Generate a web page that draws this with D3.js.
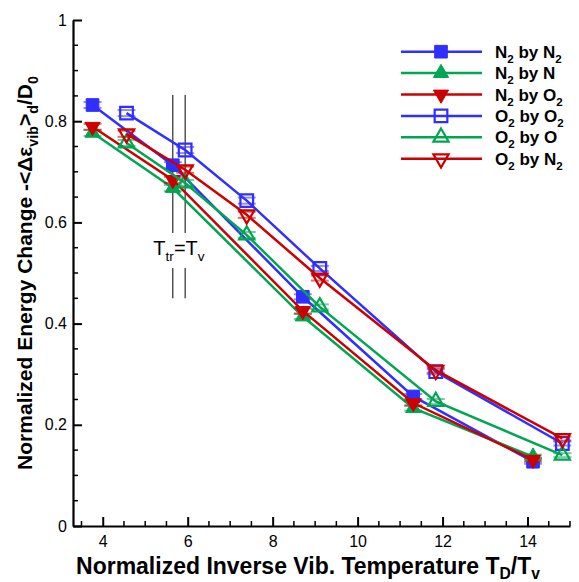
<!DOCTYPE html>
<html>
<head>
<meta charset="utf-8">
<script src="https://cdn.jsdelivr.net/npm/d3@7"></script>
<style>
  body { margin: 0; background: #fff; }
  svg { display: block; font-family: "Liberation Sans", Arial, sans-serif; }
</style>
</head>
<body>
<div id="chart"></div>
<script>
// values
const n2X = [3.76, 5.65, 8.71, 11.31, 14.13];
const o2X = [4.56, 5.94, 7.39, 9.11, 11.84, 14.82];

const n2ByN2 = [0.832, 0.713, 0.453, 0.256, 0.127];
const n2ByN  = [0.777, 0.668, 0.414, 0.233, 0.137];
const n2ByO2 = [0.789, 0.684, 0.425, 0.243, 0.131];
const o2ByO2 = [0.816, 0.743, 0.643, 0.509, 0.305, 0.163];
const o2ByO  = [0.757, 0.678, 0.575, 0.433, 0.246, 0.140];
const o2ByN2 = [0.775, 0.704, 0.615, 0.490, 0.308, 0.173];

const n2Err = [0.006, 0.006, 0.005, 0.005, 0.004];
const o2Err = [0.006, 0.006, 0.006, 0.005, 0.005, 0.004];

const seriesNames = ["N_{2} by N_{2}", "N_{2} by N", "N_{2} by O_{2}", "O_{2} by O_{2}", "O_{2} by O", "O_{2} by N_{2}"];

const xTicks = [4, 6, 8, 10, 12, 14];
const yTicks = [0, 0.2, 0.4, 0.6, 0.8, 1];

// T_tr = T_v marker lines
const tEqualX = [5.65, 5.94];

const width = 579;
const height = 582;

const blue = "#2f2fff";
const green = "#00a651";
const red = "#cc0000";

const series = [
  { name: seriesNames[0], xs: n2X, ys: n2ByN2, err: n2Err, color: blue,  shape: "square", filled: true },
  { name: seriesNames[1], xs: n2X, ys: n2ByN,  err: n2Err, color: green, shape: "up",     filled: true },
  { name: seriesNames[2], xs: n2X, ys: n2ByO2, err: n2Err, color: red,   shape: "down",   filled: true },
  { name: seriesNames[3], xs: o2X, ys: o2ByO2, err: o2Err, color: blue,  shape: "square", filled: false },
  { name: seriesNames[4], xs: o2X, ys: o2ByO,  err: o2Err, color: green, shape: "up",     filled: false },
  { name: seriesNames[5], xs: o2X, ys: o2ByN2, err: o2Err, color: red,   shape: "down",   filled: false }
];

const svg = d3.select("#chart")
  .append("svg")
  .attr("width", width)
  .attr("height", height);

const x = d3.scaleLinear().domain([3.3, 15]).range([73, 570]);
const y = d3.scaleLinear().domain([0, 1]).range([526, 20]);

// text with _{sub} parts
function richText(sel, str, size, shiftEm) {
  const parts = str.split(/(_\{[^}]*\})/).filter(s => s.length);
  let shifted = false;
  const shift = size * (shiftEm || 0.3);
  parts.forEach(p => {
    if (p.startsWith("_{")) {
      sel.append("tspan")
        .attr("dy", shifted ? 0 : shift)
        .style("font-size", (size * 0.68) + "px")
        .text(p.slice(2, -1));
      shifted = true;
    } else {
      sel.append("tspan")
        .attr("dy", shifted ? -shift : 0)
        .text(p);
      shifted = false;
    }
  });
}

function symbolPath(shape) {
  if (shape === "square") return d3.symbol(d3.symbolSquare, 160)();
  return d3.symbol(d3.symbolTriangle, 100)();
}

// axes
const xMinor = d3.range(3.5, 15.01, 0.5).filter(v => !xTicks.includes(v));
const yMinor = d3.range(0.05, 1, 0.05).map(v => +v.toFixed(2)).filter(v => !yTicks.some(t => Math.abs(t - v) < 1e-6));

const xAxisG = svg.append("g")
  .attr("transform", `translate(0,${y(0)})`)
  .call(d3.axisBottom(x).tickValues(xTicks).tickSizeInner(-9).tickSizeOuter(0).tickPadding(10).tickFormat(d3.format("d")));
xAxisG.append("g").selectAll("line")
  .data(xMinor)
  .enter().append("line")
  .attr("x1", d => x(d)).attr("x2", d => x(d))
  .attr("y1", 0).attr("y2", -5)
  .attr("stroke", "#000").attr("stroke-width", 1.5);

const yAxisG = svg.append("g")
  .attr("transform", `translate(${x(3.3)},0)`)
  .call(d3.axisLeft(y).tickValues(yTicks).tickSizeInner(-9).tickSizeOuter(0).tickPadding(6).tickFormat(d => d === 0 || d === 1 ? d3.format("d")(d) : d3.format(".1f")(d)));
yAxisG.append("g").selectAll("line")
  .data(yMinor)
  .enter().append("line")
  .attr("y1", d => y(d)).attr("y2", d => y(d))
  .attr("x1", 0).attr("x2", 5)
  .attr("stroke", "#000").attr("stroke-width", 1.5);

svg.selectAll(".domain").attr("stroke-width", 2.2);
svg.selectAll(".tick line").attr("stroke-width", 2);
svg.selectAll(".tick text")
  .style("font-size", "16px")
  .style("font-family", "\"Liberation Sans\", Arial, sans-serif")
  .attr("fill", "#000");

// axis titles
const xTitle = svg.append("text")
  .attr("x", 308)
  .attr("y", 574)
  .attr("text-anchor", "middle")
  .style("font-size", "23px")
  .style("font-weight", "bold");
richText(xTitle, "Normalized Inverse Vib. Temperature T_{D}/T_{v}", 23, 0.2);

const yTitle = svg.append("text")
  .attr("transform", "translate(32,273) rotate(-90)")
  .attr("text-anchor", "middle")
  .style("font-size", "21px")
  .style("font-weight", "bold");
richText(yTitle, "Normalized Energy Change -<\u0394\u03b5_{vib}>_{d}/D_{0}", 21);

// T_tr = T_v lines
tEqualX.forEach(v => {
  [[0.852, 0.579], [0.51, 0.45]].forEach(seg => {
    svg.append("line")
      .attr("x1", x(v)).attr("x2", x(v))
      .attr("y1", y(seg[0])).attr("y2", y(seg[1]))
      .attr("stroke", "#000").attr("stroke-width", 1);
  });
});
const tLabel = svg.append("text")
  .attr("x", x(d3.mean(tEqualX)))
  .attr("y", 255)
  .attr("text-anchor", "middle")
  .style("font-size", "20px");
richText(tLabel, "T_{tr}=T_{v}", 20);

// series
const line = d3.line().x(d => x(d[0])).y(d => y(d[1]));

series.forEach(s => {
  const pts = s.xs.map((v, i) => [v, s.ys[i], s.err[i]]);
  const g = svg.append("g");

  g.append("path")
    .datum(pts)
    .attr("d", line)
    .attr("fill", "none")
    .attr("stroke", s.color)
    .attr("stroke-width", 2.5);

  // error bars
  pts.forEach(p => {
    [p[1] - p[2], p[1] + p[2]].forEach(v => {
      g.append("line")
        .attr("x1", x(p[0]) - 9).attr("x2", x(p[0]) + 9)
        .attr("y1", y(v)).attr("y2", y(v))
        .attr("stroke", s.color).attr("stroke-opacity", 0.55).attr("stroke-width", 2);
    });
  });

  g.selectAll("path.mark")
    .data(pts)
    .enter().append("path")
    .attr("class", "mark")
    .attr("d", symbolPath(s.shape))
    .attr("transform", d => `translate(${x(d[0])},${y(d[1])})` + (s.shape === "down" ? " rotate(180)" : ""))
    .attr("fill", s.filled ? s.color : "none")
    .attr("stroke", s.color)
    .attr("stroke-width", s.filled ? 1 : 2.2);
});

// legend
const legend = svg.append("g");
series.forEach((s, i) => {
  const ly = 51.7 + i * 21.4;
  legend.append("line")
    .attr("x1", 401).attr("x2", 482)
    .attr("y1", ly).attr("y2", ly)
    .attr("stroke", s.color).attr("stroke-width", 2.5);
  legend.append("path")
    .attr("d", symbolPath(s.shape))
    .attr("transform", `translate(441,${ly})` + (s.shape === "down" ? " rotate(180)" : ""))
    .attr("fill", s.filled ? s.color : "none")
    .attr("stroke", s.color)
    .attr("stroke-width", s.filled ? 1 : 2.2);
  const t = legend.append("text")
    .attr("x", 495)
    .attr("y", ly + 6)
    .style("font-size", "17px")
    .style("font-weight", "bold");
  richText(t, s.name, 17);
});
</script>
</body>
</html>
